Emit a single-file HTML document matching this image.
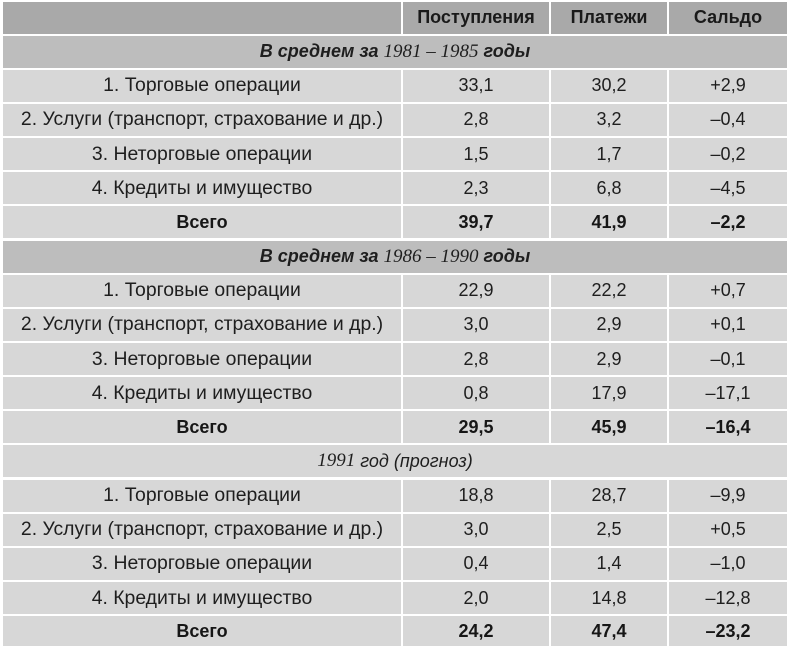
<!DOCTYPE html>
<html>
<head>
<meta charset="utf-8">
<style>
  html,body{margin:0;padding:0;background:#fff;}
  body{width:790px;height:651px;position:relative;overflow:hidden;
       font-family:"Liberation Sans","DejaVu Sans",sans-serif;color:#1e1e1e;}
  .c{position:absolute;height:32px;display:flex;align-items:center;justify-content:center;
     font-size:18px;white-space:nowrap;box-sizing:border-box;}
  .l{font-size:19.4px;}
  .h{background:#a9a9a9;font-weight:bold;color:#1a1a1a;}
  .s{background:#bdbdbd;}
  .d{background:#d7d7d7;}
  .b{font-weight:bold;color:#161616;}
  .sec{font-weight:bold;font-style:italic;}
  .yr{font-family:"Liberation Serif",serif;font-weight:normal;font-style:italic;font-size:19px;}
  .it{font-style:italic;}
</style>
</head>
<body>
<div class="c h" style="top:1.5px;left:3px;width:398px;"></div>
<div class="c h" style="top:1.5px;left:403px;width:146px;">Поступления</div>
<div class="c h" style="top:1.5px;left:551px;width:116px;">Платежи</div>
<div class="c h" style="top:1.5px;left:669px;width:118px;">Сальдо</div>

<div class="c s sec" style="top:35.65px;left:3px;width:784px;">В среднем за&nbsp;<span class="yr">1981 – 1985</span>&nbsp;годы</div>

<div class="c d l" style="top:69.8px;left:3px;width:398px;">1. Торговые операции</div>
<div class="c d" style="top:69.8px;left:403px;width:146px;">33,1</div>
<div class="c d" style="top:69.8px;left:551px;width:116px;">30,2</div>
<div class="c d" style="top:69.8px;left:669px;width:118px;">+2,9</div>

<div class="c d l" style="top:103.95px;left:3px;width:398px;">2. Услуги (транспорт, страхование и др.)</div>
<div class="c d" style="top:103.95px;left:403px;width:146px;">2,8</div>
<div class="c d" style="top:103.95px;left:551px;width:116px;">3,2</div>
<div class="c d" style="top:103.95px;left:669px;width:118px;">–0,4</div>

<div class="c d l" style="top:138.1px;left:3px;width:398px;">3. Неторговые операции</div>
<div class="c d" style="top:138.1px;left:403px;width:146px;">1,5</div>
<div class="c d" style="top:138.1px;left:551px;width:116px;">1,7</div>
<div class="c d" style="top:138.1px;left:669px;width:118px;">–0,2</div>

<div class="c d l" style="top:172.25px;left:3px;width:398px;">4. Кредиты и имущество</div>
<div class="c d" style="top:172.25px;left:403px;width:146px;">2,3</div>
<div class="c d" style="top:172.25px;left:551px;width:116px;">6,8</div>
<div class="c d" style="top:172.25px;left:669px;width:118px;">–4,5</div>

<div class="c d b" style="top:206.4px;left:3px;width:398px;">Всего</div>
<div class="c d b" style="top:206.4px;left:403px;width:146px;">39,7</div>
<div class="c d b" style="top:206.4px;left:551px;width:116px;">41,9</div>
<div class="c d b" style="top:206.4px;left:669px;width:118px;">–2,2</div>

<div class="c s sec" style="top:240.55px;left:3px;width:784px;">В среднем за&nbsp;<span class="yr">1986 – 1990</span>&nbsp;годы</div>

<div class="c d l" style="top:274.7px;left:3px;width:398px;">1. Торговые операции</div>
<div class="c d" style="top:274.7px;left:403px;width:146px;">22,9</div>
<div class="c d" style="top:274.7px;left:551px;width:116px;">22,2</div>
<div class="c d" style="top:274.7px;left:669px;width:118px;">+0,7</div>

<div class="c d l" style="top:308.85px;left:3px;width:398px;">2. Услуги (транспорт, страхование и др.)</div>
<div class="c d" style="top:308.85px;left:403px;width:146px;">3,0</div>
<div class="c d" style="top:308.85px;left:551px;width:116px;">2,9</div>
<div class="c d" style="top:308.85px;left:669px;width:118px;">+0,1</div>

<div class="c d l" style="top:343px;left:3px;width:398px;">3. Неторговые операции</div>
<div class="c d" style="top:343px;left:403px;width:146px;">2,8</div>
<div class="c d" style="top:343px;left:551px;width:116px;">2,9</div>
<div class="c d" style="top:343px;left:669px;width:118px;">–0,1</div>

<div class="c d l" style="top:377.15px;left:3px;width:398px;">4. Кредиты и имущество</div>
<div class="c d" style="top:377.15px;left:403px;width:146px;">0,8</div>
<div class="c d" style="top:377.15px;left:551px;width:116px;">17,9</div>
<div class="c d" style="top:377.15px;left:669px;width:118px;">–17,1</div>

<div class="c d b" style="top:411.3px;left:3px;width:398px;">Всего</div>
<div class="c d b" style="top:411.3px;left:403px;width:146px;">29,5</div>
<div class="c d b" style="top:411.3px;left:551px;width:116px;">45,9</div>
<div class="c d b" style="top:411.3px;left:669px;width:118px;">–16,4</div>

<div class="c d it" style="top:445.45px;left:3px;width:784px;"><span class="yr">1991</span>&nbsp;год (прогноз)</div>

<div class="c d l" style="top:479.6px;left:3px;width:398px;">1. Торговые операции</div>
<div class="c d" style="top:479.6px;left:403px;width:146px;">18,8</div>
<div class="c d" style="top:479.6px;left:551px;width:116px;">28,7</div>
<div class="c d" style="top:479.6px;left:669px;width:118px;">–9,9</div>

<div class="c d l" style="top:513.75px;left:3px;width:398px;">2. Услуги (транспорт, страхование и др.)</div>
<div class="c d" style="top:513.75px;left:403px;width:146px;">3,0</div>
<div class="c d" style="top:513.75px;left:551px;width:116px;">2,5</div>
<div class="c d" style="top:513.75px;left:669px;width:118px;">+0,5</div>

<div class="c d l" style="top:547.9px;left:3px;width:398px;">3. Неторговые операции</div>
<div class="c d" style="top:547.9px;left:403px;width:146px;">0,4</div>
<div class="c d" style="top:547.9px;left:551px;width:116px;">1,4</div>
<div class="c d" style="top:547.9px;left:669px;width:118px;">–1,0</div>

<div class="c d l" style="top:582.05px;left:3px;width:398px;">4. Кредиты и имущество</div>
<div class="c d" style="top:582.05px;left:403px;width:146px;">2,0</div>
<div class="c d" style="top:582.05px;left:551px;width:116px;">14,8</div>
<div class="c d" style="top:582.05px;left:669px;width:118px;">–12,8</div>

<div class="c d b" style="top:616.2px;left:3px;width:398px;height:30px;">Всего</div>
<div class="c d b" style="top:616.2px;left:403px;width:146px;height:30px;">24,2</div>
<div class="c d b" style="top:616.2px;left:551px;width:116px;height:30px;">47,4</div>
<div class="c d b" style="top:616.2px;left:669px;width:118px;height:30px;">–23,2</div>
</body>
</html>
